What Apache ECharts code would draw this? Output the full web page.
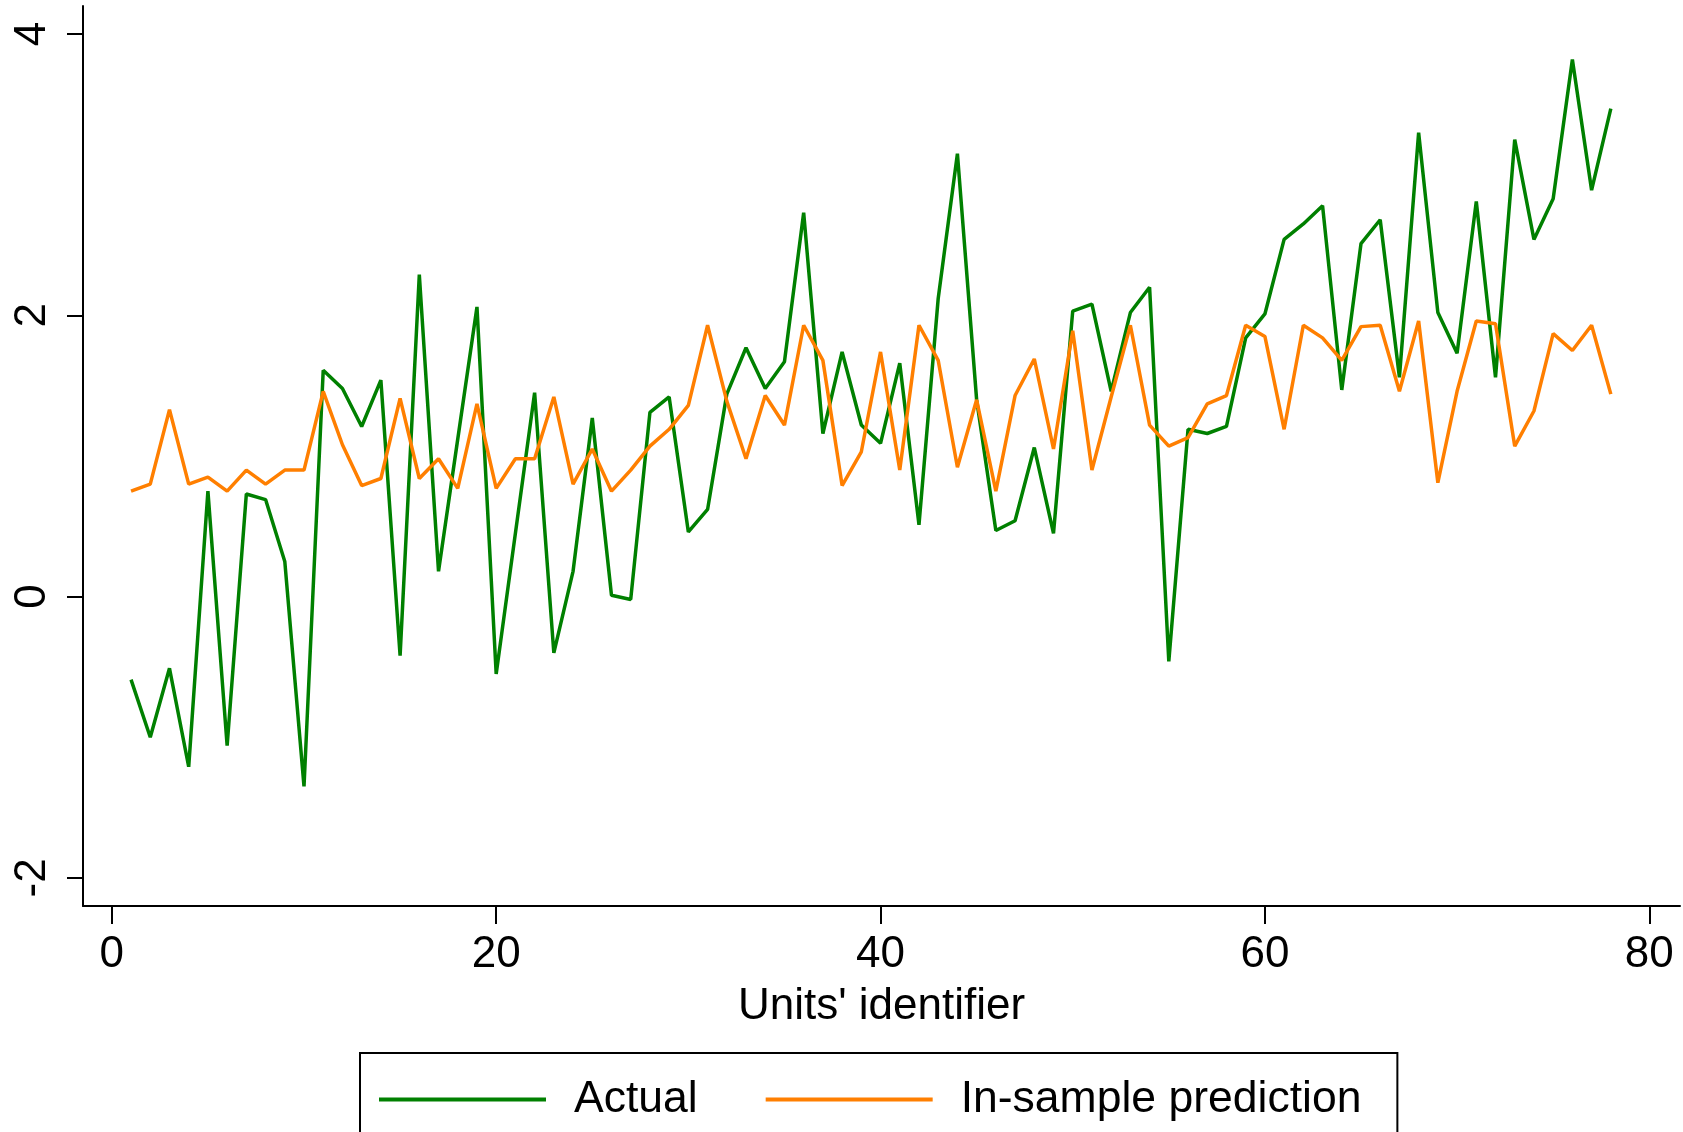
<!DOCTYPE html>
<html>
<head>
<meta charset="utf-8">
<script src="https://cdn.jsdelivr.net/npm/echarts@6/dist/echarts.min.js"></script>
<style>
  html, body { margin: 0; padding: 0; background: #fff; }
  #chart { width: 1683px; height: 1132px; }
</style>
</head>
<body>
<div id="chart"></div>
<script>
// unit ids (x)
var unitIds = [1, 2, 3, 4, 5, 6, 7, 8, 9, 10, 11, 12, 13, 14, 15, 16, 17, 18, 19, 20,
  21, 22, 23, 24, 25, 26, 27, 28, 29, 30, 31, 32, 33, 34, 35, 36, 37, 38, 39, 40,
  41, 42, 43, 44, 45, 46, 47, 48, 49, 50, 51, 52, 53, 54, 55, 56, 57, 58, 59, 60,
  61, 62, 63, 64, 65, 66, 67, 68, 69, 70, 71, 72, 73, 74, 75, 76, 77, 78];

// actual values
var actual = [-0.59, -1.00, -0.51, -1.21, 0.75, -1.06, 0.73, 0.69, 0.25, -1.35,
  1.61, 1.48, 1.21, 1.54, -0.42, 2.29, 0.18, 1.12, 2.06, -0.55,
  0.45, 1.45, -0.40, 0.18, 1.27, 0.01, -0.02, 1.31, 1.42, 0.46,
  0.62, 1.44, 1.77, 1.48, 1.67, 2.73, 1.16, 1.74, 1.22, 1.09,
  1.66, 0.51, 2.12, 3.15, 1.40, 0.47, 0.54, 1.06, 0.45, 2.03,
  2.08, 1.46, 2.02, 2.20, -0.46, 1.19, 1.16, 1.21, 1.84, 2.01,
  2.54, 2.65, 2.78, 1.47, 2.51, 2.68, 1.56, 3.30, 2.02, 1.73,
  2.81, 1.56, 3.25, 2.54, 2.83, 3.82, 2.89, 3.47];

// in-sample prediction
var predicted = [0.75, 0.80, 1.33, 0.80, 0.85, 0.75, 0.90, 0.80, 0.90, 0.90,
  1.46, 1.08, 0.79, 0.84, 1.41, 0.84, 0.98, 0.77, 1.37, 0.77,
  0.98, 0.98, 1.42, 0.80, 1.05, 0.75, 0.90, 1.07, 1.19, 1.36,
  1.93, 1.39, 0.98, 1.43, 1.22, 1.93, 1.68, 0.79, 1.03, 1.74,
  0.90, 1.93, 1.68, 0.92, 1.40, 0.75, 1.43, 1.69, 1.05, 1.89,
  0.90, 1.42, 1.93, 1.22, 1.07, 1.13, 1.37, 1.43, 1.93, 1.85,
  1.19, 1.93, 1.84, 1.68, 1.92, 1.93, 1.46, 1.96, 0.81, 1.46,
  1.96, 1.94, 1.07, 1.32, 1.87, 1.75, 1.93, 1.44];

var xTicks = [0, 20, 40, 60, 80];
var yTicks = [-2, 0, 2, 4];

function pairs(ys) {
  return unitIds.map(function (id, i) { return [id, ys[i]]; });
}

var font = 'Liberation Sans, Arial, Helvetica, sans-serif';
var chart = echarts.init(document.getElementById('chart'), null, { renderer: 'canvas' });

chart.setOption({
  backgroundColor: '#fff',
  animation: false,
  textStyle: { fontFamily: font },
  grid: { left: 83, right: 3, top: 6, bottom: 226, containLabel: false },
  legend: {
    left: 360,
    top: 1053,
    padding: [24, 36, 60, 19],
    borderColor: '#000',
    borderWidth: 2,
    itemWidth: 167,
    itemHeight: 4,
    itemGap: 68,
    icon: 'rect',
    textStyle: { fontSize: 44.5, color: '#000', fontFamily: font, padding: [0, 0, 0, 23] },
    data: ['Actual', 'In-sample prediction']
  },
  xAxis: {
    type: 'value',
    min: -1.5,
    max: 81.6,
    name: "Units' identifier",
    nameLocation: 'middle',
    nameGap: 79,
    nameTextStyle: { fontSize: 44, color: '#000', fontFamily: font },
    axisLine: { show: true, onZero: false, lineStyle: { color: '#000', width: 2 } },
    axisTick: { show: true, length: 18, customValues: xTicks, lineStyle: { color: '#000', width: 2 } },
    axisLabel: { customValues: xTicks, fontSize: 44, color: '#000', margin: 27, fontFamily: font },
    splitLine: { show: false }
  },
  yAxis: {
    type: 'value',
    min: -2.2,
    max: 4.2,
    axisLine: { show: true, onZero: false, lineStyle: { color: '#000', width: 2 } },
    axisTick: { show: true, length: 16, customValues: yTicks, lineStyle: { color: '#000', width: 2 } },
    axisLabel: { customValues: yTicks, fontSize: 44, color: '#000', margin: 28, rotate: 90, fontFamily: font },
    splitLine: { show: false }
  },
  series: [
    {
      name: 'Actual',
      type: 'line',
      data: pairs(actual),
      showSymbol: false,
      color: '#008000',
      lineStyle: { color: '#008000', width: 3.5 }
    },
    {
      name: 'In-sample prediction',
      type: 'line',
      data: pairs(predicted),
      showSymbol: false,
      color: '#ff7f00',
      lineStyle: { color: '#ff7f00', width: 3.5 }
    }
  ]
});
</script>
</body>
</html>
